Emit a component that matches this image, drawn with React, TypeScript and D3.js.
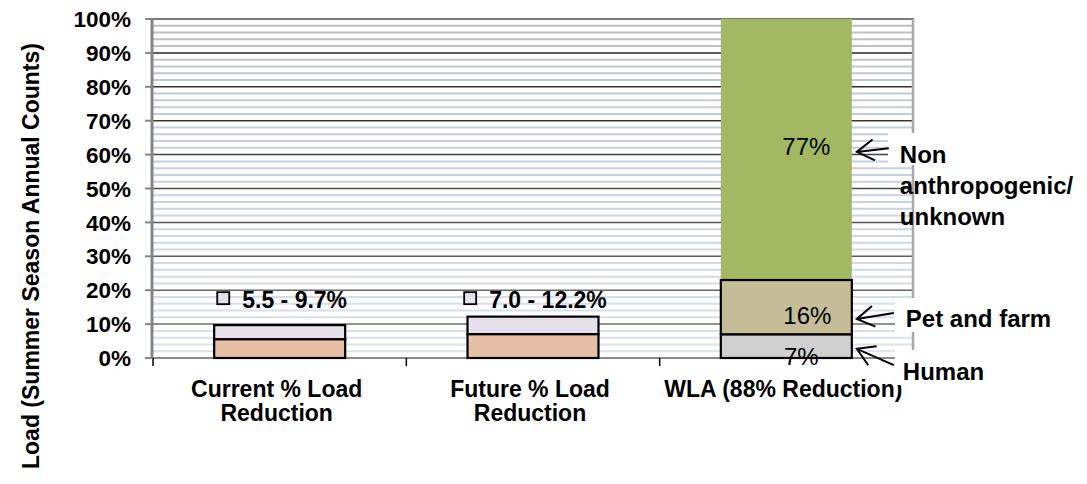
import * as d3 from "d3";
import {useEffect, useRef} from "react";

// chart data
const categories = ["Current % Load Reduction", "Future % Load Reduction", "WLA (88% Reduction)"];
const categoryLines = [["Current % Load", "Reduction"], ["Future % Load", "Reduction"], ["WLA (88% Reduction)"]];
const reductionLow = [5.5, 7.0];
const reductionHigh = [9.7, 12.2];
const rangeLabels = ["5.5 - 9.7%", "7.0 - 12.2%"];
const wlaSources = ["Human", "Pet and farm", "Non anthropogenic/ unknown"];
const wlaShares = [7, 16, 77];
const sourceLines = [["Human"], ["Pet and farm"], ["Non", "anthropogenic/", "unknown"]];
const arrowTips = [2.7, 11.5, 60.8];
const arrowTails = [-2.1, 13.3, 61.9];
const yTicks = d3.range(0, 101, 10);

const lowColor = "#e6bfa7";
const highColor = "#e5e0ec";
const wlaColors = ["#d0d0d0", "#c4bd98", "#a3b862"];
const font = "'Liberation Sans', Arial, sans-serif";

export default function App() {
  const svgRef = useRef<SVGSVGElement | null>(null);

  useEffect(() => {
    const width = 1087;
    const height = 484;
    const left = 153, right = 913, top = 19, bottom = 358;

    const svg = d3.select(svgRef.current)
        .attr("width", width)
        .attr("height", height);
    svg.selectAll("*").remove();

    const x = d3.scaleBand<string>().domain(categories).range([left, right]);
    const y = d3.scaleLinear().domain([0, 100]).range([bottom, top]);
    const barW = 131;
    const barX = (i: number) => (x(categories[i]) as number) + (x.bandwidth() - barW) / 2;
    const barMid = (i: number) => barX(i) + barW / 2;

    // striped background: minor lines every 2%, major every 10%
    const minorColor = d3.scaleLinear<string>()
        .domain([100, 78, 45, 0])
        .range(["#bdbdbd", "#c2c9dc", "#c8d2e9", "#dce3f1"]);
    const majorColor = d3.scaleLinear<string>()
        .domain([90, 50, 10])
        .range(["#262626", "#4c4c4c", "#6e6e6e"]);

    const minor = d3.range(2, 100, 2).filter(v => v % 10 !== 0);
    svg.append("g").selectAll("line")
        .data(minor)
        .enter().append("line")
        .attr("x1", left).attr("x2", right)
        .attr("y1", d => y(d)).attr("y2", d => y(d))
        .attr("stroke", d => minorColor(d))
        .attr("stroke-width", 2);

    svg.append("g").selectAll("line")
        .data(yTicks.filter(v => v > 0 && v < 100))
        .enter().append("line")
        .attr("x1", left).attr("x2", right)
        .attr("y1", d => y(d)).attr("y2", d => y(d))
        .attr("stroke", d => majorColor(d))
        .attr("stroke-width", 1.5);

    // frame
    svg.append("line").attr("x1", left - 1).attr("x2", right + 1).attr("y1", top).attr("y2", top)
        .attr("stroke", "#7a7a7a").attr("stroke-width", 2);
    svg.append("line").attr("x1", right).attr("x2", right).attr("y1", top).attr("y2", bottom)
        .attr("stroke", "#a8a8a8").attr("stroke-width", 2.5);
    svg.append("line").attr("x1", left).attr("x2", right).attr("y1", bottom).attr("y2", bottom)
        .attr("stroke", "#8a8a8a").attr("stroke-width", 2);
    svg.append("line").attr("x1", left - 1).attr("x2", left - 1).attr("y1", top).attr("y2", bottom)
        .attr("stroke", "#858585").attr("stroke-width", 3);

    // y axis ticks + labels
    const yAxis = svg.append("g");
    yAxis.selectAll("line")
        .data(yTicks)
        .enter().append("line")
        .attr("x1", left - 8).attr("x2", left - 1)
        .attr("y1", d => y(d)).attr("y2", d => y(d))
        .attr("stroke", "#858585").attr("stroke-width", 2);
    yAxis.selectAll("text")
        .data(yTicks)
        .enter().append("text")
        .attr("x", 131)
        .attr("y", d => y(d))
        .attr("dy", "0.36em")
        .attr("text-anchor", "end")
        .attr("font-family", font)
        .attr("font-weight", "bold")
        .attr("font-size", 22.5)
        .text(d => `${d}%`);

    // x ticks at category boundaries
    const bounds = categories.map(c => x(c) as number);
    svg.append("g").selectAll("line")
        .data(bounds)
        .enter().append("line")
        .attr("x1", d => d).attr("x2", d => d)
        .attr("y1", bottom).attr("y2", bottom + 8)
        .attr("stroke", "#000").attr("stroke-width", 1.5);

    // reduction bars (low part + range part)
    reductionLow.forEach((lo, i) => {
      const hi = reductionHigh[i];
      svg.append("rect")
          .attr("x", barX(i)).attr("y", y(hi))
          .attr("width", barW).attr("height", y(lo) - y(hi))
          .attr("fill", highColor).attr("stroke", "#000").attr("stroke-width", 2.2);
      svg.append("rect")
          .attr("x", barX(i)).attr("y", y(lo))
          .attr("width", barW).attr("height", y(0) - y(lo))
          .attr("fill", lowColor).attr("stroke", "#000").attr("stroke-width", 2.2);

      const base = y(14.7);
      const t = svg.append("text")
          .attr("x", barMid(i) + 15)
          .attr("y", base)
          .attr("text-anchor", "middle")
          .attr("font-family", font)
          .attr("font-weight", "bold")
          .attr("font-size", 23)
          .text(rangeLabels[i]);
      const tw = (t.node() as SVGTextElement).getComputedTextLength();
      svg.append("rect")
          .attr("x", barMid(i) + 15 - tw / 2 - 25)
          .attr("y", base - 16)
          .attr("width", 12).attr("height", 12)
          .attr("fill", highColor).attr("stroke", "#000").attr("stroke-width", 1.8);
    });

    // WLA stacked bar
    const stacks: Array<[number, number]> = [];
    let acc = 0;
    wlaShares.forEach(v => { stacks.push([acc, acc + v]); acc += v; });
    const wi = 2;
    [2, 0, 1].forEach(k => {
      const [a, b] = stacks[k];
      svg.append("rect")
          .attr("x", barX(wi)).attr("y", y(b))
          .attr("width", barW).attr("height", y(a) - y(b))
          .attr("fill", wlaColors[k])
          .attr("stroke", k === 2 ? "none" : "#000")
          .attr("stroke-width", 2.2);
    });

    // value labels inside WLA bar
    const labelShift = [19, 17, 5.5];
    const labelDx = [15, 21, 20];
    stacks.forEach(([a, b], k) => {
      svg.append("text")
          .attr("x", barMid(wi) + labelDx[k])
          .attr("y", y((a + b) / 2) + labelShift[k])
          .attr("text-anchor", "middle")
          .attr("font-family", font)
          .attr("font-size", 24)
          .attr("fill", "#000")
          .text(`${wlaShares[k]}%`);
    });

    // x category labels
    categoryLines.forEach((lines, i) => {
      const cx = (x(categories[i]) as number) + x.bandwidth() / 2 - 3;
      lines.forEach((ln, j) => {
        svg.append("text")
            .attr("x", cx)
            .attr("y", 397 + j * 24)
            .attr("text-anchor", "middle")
            .attr("font-family", font)
            .attr("font-weight", "bold")
            .attr("font-size", 23)
            .text(ln);
      });
    });

    // source annotations: white text boxes, arrows, labels
    const boxes = [
      {x: 895, y: 350, h: 35},
      {x: 895, y: 298, h: 34},
      {x: 888, y: 133, h: 32},
    ];
    const tailDx = [37, 37, 32];
    const textDx = [46, 49, 43];
    const textDy = [31, 8, 11];
    const tipX = barX(wi) + barW + 5;
    wlaSources.forEach((_, k) => {
      const bx = boxes[k];
      svg.append("rect")
          .attr("x", bx.x).attr("y", bx.y)
          .attr("width", width - bx.x).attr("height", bx.h)
          .attr("fill", "#fff");

      const tx = tipX, ty = y(arrowTips[k]);
      const ex = tipX + tailDx[k], ey = y(arrowTails[k]);
      const ang = Math.atan2(ey - ty, ex - tx);
      const arm = 20, spread = 0.55;
      const a1 = [tx + arm * Math.cos(ang - spread), ty + arm * Math.sin(ang - spread)];
      const a2 = [tx + arm * Math.cos(ang + spread), ty + arm * Math.sin(ang + spread)];
      const p = d3.path();
      p.moveTo(ex, ey); p.lineTo(tx, ty);
      p.moveTo(a1[0], a1[1]); p.lineTo(tx, ty); p.lineTo(a2[0], a2[1]);
      svg.append("path")
          .attr("d", p.toString())
          .attr("fill", "none")
          .attr("stroke", "#000")
          .attr("stroke-width", 2);

      sourceLines[k].forEach((ln, j) => {
        svg.append("text")
            .attr("x", tipX + textDx[k])
            .attr("y", ty + textDy[k] + j * 31)
            .attr("font-family", font)
            .attr("font-weight", "bold")
            .attr("font-size", 24)
            .text(ln);
      });
    });

    // y axis title
    svg.append("text")
        .attr("transform", `translate(39,${(42 + 470) / 2}) rotate(-90)`)
        .attr("text-anchor", "middle")
        .attr("font-family", font)
        .attr("font-weight", "bold")
        .attr("font-size", 23)
        .text("Load (Summer Season Annual Counts)");
  }, []);

  return (
      <svg ref={svgRef} style={{position: "absolute", left: 0, top: 0, background: "#fff"}}></svg>
  );
};
